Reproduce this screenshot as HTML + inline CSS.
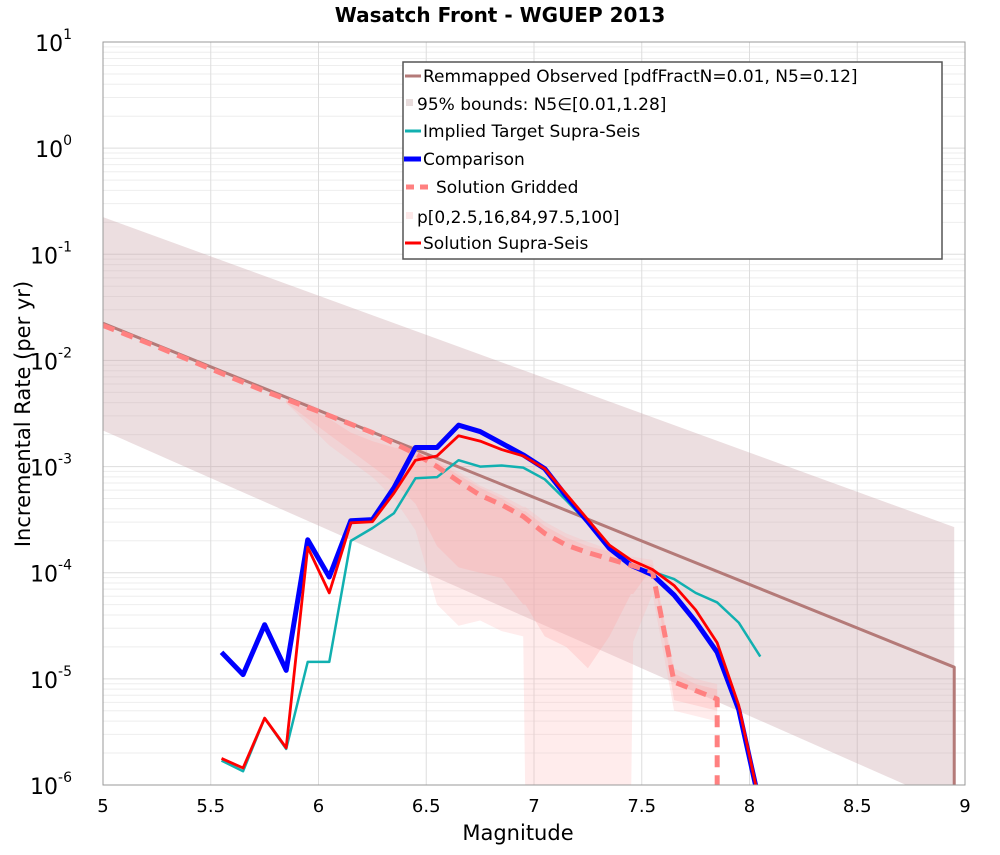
<!DOCTYPE html>
<html><head><meta charset="utf-8"><style>
body{margin:0;background:#fff;}
svg text{font-family:"DejaVu Sans","Liberation Sans",sans-serif;}
</style></head><body>
<svg id="chart" width="1000" height="850" xmlns="http://www.w3.org/2000/svg">
<text x="500" y="22" text-anchor="middle" font-size="20" font-weight="bold">Wasatch Front - WGUEP 2013</text>
<g id="grid"></g>
<g id="bands"></g>
<g id="lines"></g>
<rect x="103" y="42" width="862" height="743" fill="none" stroke="#999" stroke-width="1"/>
<g id="axes"></g>
<text x="518" y="840" text-anchor="middle" font-size="21">Magnitude</text>
<text transform="translate(30,414) rotate(-90)" text-anchor="middle" font-size="21">Incremental Rate (per yr)</text>
<g>
<rect x="403" y="62" width="539" height="197" fill="#fff" stroke="#555" stroke-width="1.5"/>
<g font-size="17">
<line x1="405" y1="76" x2="421" y2="76" stroke="#b47a78" stroke-width="3"/><text x="423" y="82">Remmapped Observed [pdfFractN=0.01, N5=0.12]</text>
<rect x="406" y="99" width="7" height="7" fill="#e8dcdc"/><text x="417" y="110">95% bounds: N5∈[0.01,1.28]</text>
<line x1="405" y1="131" x2="421" y2="131" stroke="#11b0b0" stroke-width="3"/><text x="423" y="137">Implied Target Supra-Seis</text>
<line x1="404" y1="159" x2="421" y2="159" stroke="#0000ff" stroke-width="5"/><text x="423" y="165">Comparison</text>
<line x1="406" y1="187" x2="432" y2="187" stroke="#ff8080" stroke-width="5" stroke-dasharray="8,6"/><text x="436" y="193">Solution Gridded</text>
<rect x="406" y="212" width="7" height="7" fill="#fde8e8"/><text x="417" y="223">p[0,2.5,16,84,97.5,100]</text>
<line x1="405" y1="243" x2="421" y2="243" stroke="#ff0000" stroke-width="3"/><text x="423" y="249">Solution Supra-Seis</text>
</g></g>
</svg>
<script>
const xTicks=[5,5.5,6,6.5,7,7.5,8,8.5,9];
const xTickLabels=["5","5.5","6","6.5","7","7.5","8","8.5","9"];
const yDecades=[1,0,-1,-2,-3,-4,-5,-6];
const mags=[5.55,5.65,5.75,5.85,5.95,6.05,6.15,6.25,6.35,6.45,6.55,6.65,6.75,6.85,6.95,7.05,7.15,7.25,7.35,7.45,7.55,7.65,7.75,7.85,7.95,8.05];
const comparison=[-4.75,-4.96,-4.49,-4.92,-3.69,-4.04,-3.51,-3.50,-3.20,-2.82,-2.82,-2.61,-2.67,-2.78,-2.89,-3.02,-3.28,-3.52,-3.77,-3.93,-4.02,-4.21,-4.46,-4.75,-5.29,-7];
const supraSeis=[-5.75,-5.84,-5.37,-5.65,-3.76,-4.19,-3.53,-3.52,-3.25,-2.94,-2.90,-2.71,-2.76,-2.84,-2.90,-3.02,-3.26,-3.50,-3.74,-3.88,-3.97,-4.12,-4.35,-4.66,-5.25,-7];
const target=[-5.77,-5.87,-5.37,-5.66,-4.84,-4.84,-3.70,-3.58,-3.44,-3.11,-3.10,-2.94,-3.00,-2.99,-3.01,-3.12,-3.32,-3.53,-3.75,-3.94,-3.99,-4.06,-4.19,-4.28,-4.47,-4.79];
const gridMags=[5.0,5.25,5.5,5.75,6.0,6.25,6.45,6.55,6.65,6.75,6.85,6.95,7.05,7.15,7.25,7.35,7.45,7.55,7.65,7.75,7.85,7.85];
const gridded=[-1.67,-1.87,-2.08,-2.29,-2.48,-2.68,-2.88,-3.0,-3.14,-3.27,-3.36,-3.47,-3.63,-3.74,-3.81,-3.87,-3.93,-3.99,-5.03,-5.11,-5.19,-7];
const obsMags=[5.0,8.95,8.95];
const observed=[-1.65,-4.89,-7];
const boundMags=[5.0,8.95];
const boundHigh=[-0.65,-3.57];
const boundLow=[-2.66,-6.4];
const pMags=[5.85,5.95,6.05,6.15,6.25,6.35,6.45,6.55,6.65,6.75,6.85,6.95,6.96,7.05,7.15,7.25,7.35,7.45,7.46,7.55,7.65,7.75,7.85];
const pOuterHigh=[-2.35,-2.4,-2.5,-2.62,-2.72,-2.78,-2.80,-2.92,-3.05,-3.18,-3.27,-3.38,-3.38,-3.52,-3.63,-3.71,-3.78,-3.85,-3.85,-3.88,-4.9,-5.0,-5.05];
const pOuterLow=[-2.4,-2.6,-2.8,-2.95,-3.1,-3.3,-3.6,-4.3,-4.5,-4.45,-4.55,-4.6,-7,-7,-7,-7,-7,-7,-4.65,-4.2,-5.3,-5.35,-5.4];
const pInnerHigh=[-2.38,-2.45,-2.55,-2.68,-2.76,-2.82,-2.85,-2.95,-3.08,-3.2,-3.3,-3.42,-3.42,-3.56,-3.67,-3.75,-3.8,-3.88,-3.88,-3.93,-4.95,-5.05,-5.1];
const pInnerLow=[-2.4,-2.55,-2.7,-2.85,-3.0,-3.15,-3.35,-3.75,-3.95,-4.0,-4.05,-4.3,-4.3,-4.6,-4.7,-4.9,-4.6,-4.2,-4.2,-3.95,-5.2,-5.25,-5.3];
const X0=103,X1=965,Y0=42,Y1=785;
const xs=m=>X0+(m-5)/4*(X1-X0);
const ys=l=>Y0+(1-Math.max(l,-6.2))/7*(Y1-Y0);
const NS="http://www.w3.org/2000/svg";
function mk(tag,attrs,parent){const e=document.createElementNS(NS,tag);for(const k in attrs)e.setAttribute(k,attrs[k]);parent.appendChild(e);return e;}
const clipDefs=mk('defs',{},document.getElementById('chart'));
const cp=mk('clipPath',{id:'pc'},clipDefs);mk('rect',{x:X0,y:Y0,width:X1-X0,height:Y1-Y0},cp);
const grid=document.getElementById('grid'),axes=document.getElementById('axes');
yDecades.forEach(d=>{
  for(let k=1;k<10;k++){const l=d+Math.log10(k);if(l>1||(d===1&&k>1))continue;
    const g=mk('line',{x1:X0,x2:X1,y1:ys(l),y2:ys(l),stroke:k===1?'#ddd':'#eee','stroke-width':1},grid);
    
    }
  const t=mk('text',{x:72,y:ys(d)+9,'text-anchor':'end','font-size':22},axes);
  
  
  t.textContent='10';
  const s=mk('tspan',{dy:-12,'font-size':14},t);s.textContent=String(d);
});
xTicks.forEach((v,i)=>{
  const g=mk('line',{x1:xs(v),x2:xs(v),y1:Y0,y2:Y1,stroke:'#ddd','stroke-width':1},grid);
  
  
  const t=mk('text',{x:xs(v),y:812,'text-anchor':'middle','font-size':18},axes);
  
  
  t.textContent=xTickLabels[i];
});
const bands=document.getElementById('bands');bands.setAttribute('clip-path','url(#pc)');
function band(mx,hi,lo,fill,name){
  let p=mx.map((m,i)=>xs(m)+','+ys(hi[i]));
  for(let i=mx.length-1;i>=0;i--)p.push(xs(mx[i])+','+ys(lo[i]));
  const e=mk('polygon',{points:p.join(' '),fill:fill},bands);
  
  
}
band(boundMags,boundHigh,boundLow,'rgba(200,160,165,0.35)','bounds-95-band');
band(pMags,pOuterHigh,pOuterLow,'rgba(255,180,180,0.25)','percentile-outer-band');
band(pMags,pInnerHigh,pInnerLow,'rgba(255,170,170,0.3)','percentile-inner-band');
const lines=document.getElementById('lines');lines.setAttribute('clip-path','url(#pc)');
function line(mx,vals,color,w,name,dash){
  const e=mk('polyline',{points:mx.map((m,i)=>xs(m)+','+ys(vals[i])).join(' '),fill:'none',stroke:color,'stroke-width':w,'stroke-linejoin':'round'},lines);
  if(dash)e.setAttribute('stroke-dasharray',dash);
  
  
}
line(obsMags,observed,'#b47a78',3,'observed-line');
line(mags,target,'#11b0b0',2.5,'target-supra-line');
line(mags,comparison,'#0000ff',5,'comparison-line');
line(gridMags,gridded,'#ff8080',5,'gridded-line','12,8');
line(mags,supraSeis,'#ff0000',2.8,'supra-seis-line');
</script>
</body></html>
